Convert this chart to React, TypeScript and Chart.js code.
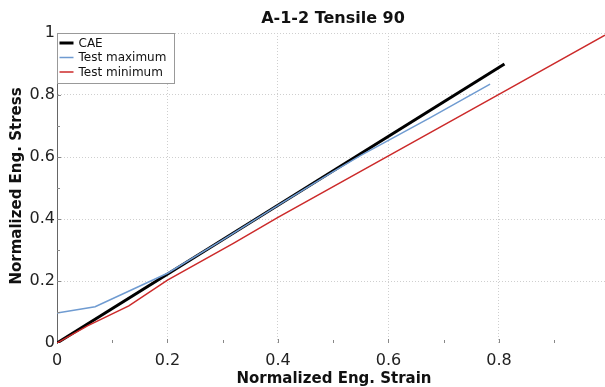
import React, { useEffect, useRef } from "react";
import { Chart, registerables } from "chart.js";

Chart.register(...registerables);

const TITLE = "A-1-2 Tensile 90";
const X_TITLE = "Normalized Eng. Strain";
const Y_TITLE = "Normalized Eng. Stress";

const CAE_STRAIN = [0, 0.81];
const CAE_STRESS = [0, 0.9];

const MAX_STRAIN = [0, 0.069, 0.2, 0.3, 0.4, 0.5, 0.55, 0.675, 0.784];
const MAX_STRESS = [0.097, 0.117, 0.225, 0.333, 0.444, 0.553, 0.605, 0.726, 0.835];

const MIN_STRAIN = [0, 0.056, 0.13, 0.2, 0.32, 0.4, 0.8, 0.992];
const MIN_STRESS = [0, 0.056, 0.12, 0.203, 0.322, 0.405, 0.802, 0.993];

const LEGEND_LABELS = ["CAE", "Test maximum", "Test minimum"];
const COLORS = ["#000000", "#6f9bd1", "#cc2a2a"];

const pts = (xs: number[], ys: number[]) => xs.map((x, i) => ({ x, y: ys[i] }));

const FONT = "'DejaVu Sans', sans-serif";

const fmt = (v: any) => String(Math.round(Number(v) * 10) / 10);

const decorations = {
  id: "decorations",
  afterDraw(chart: any) {
    const { ctx, chartArea, scales } = chart;
    const xs = scales.x;
    const ys = scales.y;
    ctx.save();

    // small inward tick marks every 0.1
    ctx.strokeStyle = "#888";
    ctx.lineWidth = 1;
    for (let k = 1; k < 10; k++) {
      const v = k / 10;
      const major = k % 2 === 0;
      const px = Math.round(xs.getPixelForValue(v)) + 0.5;
      ctx.beginPath();
      ctx.moveTo(px, chartArea.bottom);
      ctx.lineTo(px, chartArea.bottom - (major ? 4 : 3));
      ctx.stroke();
      const py = Math.round(ys.getPixelForValue(v)) + 0.5;
      ctx.beginPath();
      ctx.moveTo(chartArea.left, py);
      ctx.lineTo(chartArea.left + (major ? 4 : 3), py);
      ctx.stroke();
    }

    // title
    ctx.fillStyle = "#111";
    ctx.textAlign = "center";
    ctx.textBaseline = "middle";
    ctx.font = `bold 16px ${FONT}`;
    ctx.fillText(TITLE, (chartArea.left + chartArea.right) / 2 + 2, 19);

    // axis titles
    ctx.font = `bold 15px ${FONT}`;
    ctx.fillText(X_TITLE, 334, 379);
    ctx.save();
    ctx.translate(17, 186);
    ctx.rotate(-Math.PI / 2);
    ctx.fillText(Y_TITLE, 0, 0);
    ctx.restore();

    // legend box
    const bx = chartArea.left + 0.5;
    const by = chartArea.top + 0.5;
    const bw = 117;
    const bh = 50;
    ctx.fillStyle = "#ffffff";
    ctx.fillRect(bx, by, bw, bh);
    ctx.strokeStyle = "#999";
    ctx.lineWidth = 1;
    ctx.strokeRect(bx, by, bw, bh);
    ctx.font = `12px ${FONT}`;
    ctx.textAlign = "left";
    LEGEND_LABELS.forEach((label, i) => {
      const y = chartArea.top + 10 + i * 14.5;
      ctx.strokeStyle = COLORS[i];
      ctx.lineWidth = i === 0 ? 3 : 1.5;
      ctx.beginPath();
      ctx.moveTo(bx + 2, y);
      ctx.lineTo(bx + 16, y);
      ctx.stroke();
      ctx.fillStyle = "#111";
      ctx.fillText(label, bx + 21, y + 0.5);
    });
    ctx.restore();
  },
};

export default function App() {
  const ref = useRef<HTMLCanvasElement | null>(null);

  useEffect(() => {
    if (!ref.current) return;
    const gridColor = (c: any) => (c.tick && c.tick.value === 0 ? "rgba(0,0,0,0)" : "#cfcfcf");
    const chart = new Chart(ref.current, {
      type: "line",
      data: {
        datasets: [
          {
            label: LEGEND_LABELS[2],
            data: pts(MIN_STRAIN, MIN_STRESS),
            borderColor: COLORS[2],
            borderWidth: 1.5,
            pointRadius: 0,
            tension: 0,
          },
          {
            label: LEGEND_LABELS[1],
            data: pts(MAX_STRAIN, MAX_STRESS),
            borderColor: COLORS[1],
            borderWidth: 1.5,
            pointRadius: 0,
            tension: 0,
          },
          {
            label: LEGEND_LABELS[0],
            data: pts(CAE_STRAIN, CAE_STRESS),
            borderColor: COLORS[0],
            borderWidth: 3,
            pointRadius: 0,
            tension: 0,
          },
        ],
      },
      options: {
        animation: false,
        responsive: true,
        maintainAspectRatio: false,
        layout: { padding: { top: 33, left: 0, right: 0, bottom: 0 } },
        plugins: {
          legend: { display: false },
          title: { display: false },
          tooltip: { enabled: false },
        },
        scales: {
          x: {
            type: "linear",
            min: 0,
            max: 0.992,
            afterFit: (s: any) => {
              s.height = 44;
            },
            ticks: {
              stepSize: 0.2,
              includeBounds: false,
              maxRotation: 0,
              padding: 8,
              color: "#222",
              font: { family: FONT, size: 16 },
              callback: fmt,
            },
            grid: { color: gridColor, tickLength: 0, lineWidth: 1 },
            border: { display: false, dash: [1, 2] },
          },
          y: {
            type: "linear",
            min: 0,
            max: 1,
            afterFit: (s: any) => {
              s.width = 57;
            },
            ticks: {
              stepSize: 0.2,
              padding: 2,
              color: "#222",
              font: { family: FONT, size: 16 },
              callback: fmt,
            },
            grid: { color: gridColor, tickLength: 0, lineWidth: 1 },
            border: { display: true, color: "#666", width: 1, dash: [1, 2] },
          },
        },
      },
      plugins: [decorations],
    });
    return () => chart.destroy();
  }, []);

  return (
    <div style={{ position: "absolute", left: 0, top: 0, width: 605, height: 387, background: "#fff" }}>
      <canvas ref={ref} />
    </div>
  );
}
